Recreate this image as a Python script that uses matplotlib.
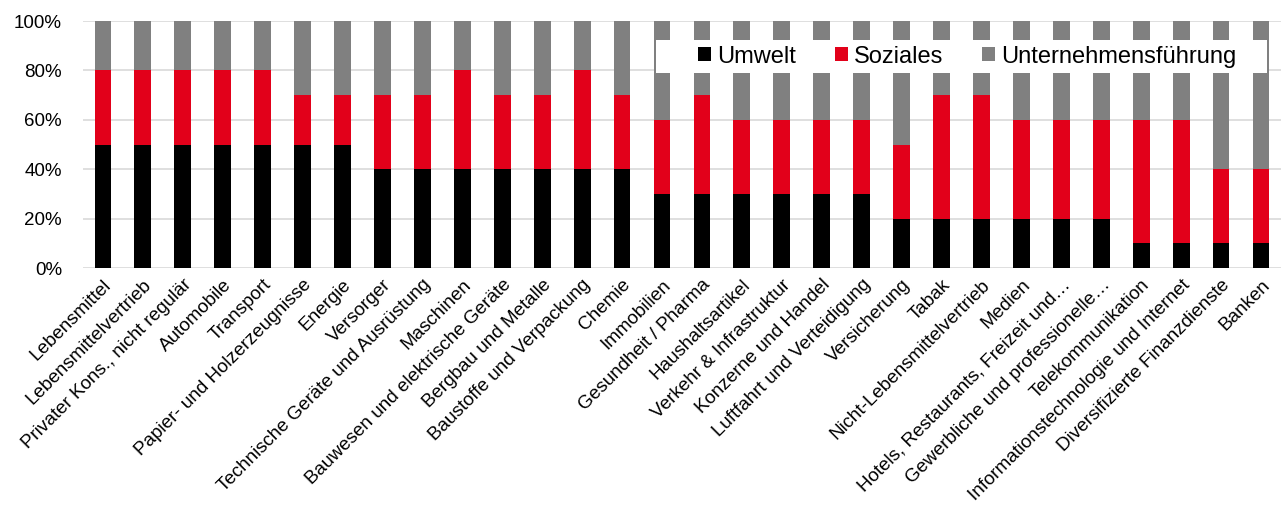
import numpy as np
import matplotlib
matplotlib.use("Agg")
import matplotlib.pyplot as plt
from matplotlib.patches import Rectangle
from matplotlib.ticker import PercentFormatter

plt.rcParams['font.family'] = ['Liberation Sans', 'DejaVu Sans']

sektoren = ["Lebensmittel", "Lebensmittelvertrieb", "Privater Kons., nicht regulär",
            "Automobile", "Transport", "Papier- und Holzerzeugnisse", "Energie",
            "Versorger", "Technische Geräte und Ausrüstung", "Maschinen",
            "Bauwesen und elektrische Geräte", "Bergbau und Metalle",
            "Baustoffe und Verpackung", "Chemie", "Immobilien", "Gesundheit / Pharma",
            "Haushaltsartikel", "Verkehr & Infrastruktur", "Konzerne und Handel",
            "Luftfahrt und Verteidigung", "Versicherung", "Tabak",
            "Nicht-Lebensmittelvertrieb", "Medien", "Hotels, Restaurants, Freizeit und…",
            "Gewerbliche und professionelle…", "Telekommunikation",
            "Informationstechnologie und Internet", "Diversifizierte Finanzdienste", "Banken"]

umwelt = [50, 50, 50, 50, 50, 50, 50, 40, 40, 40, 40, 40, 40, 40, 30,
          30, 30, 30, 30, 30, 20, 20, 20, 20, 20, 20, 10, 10, 10, 10]
soziales = [30, 30, 30, 30, 30, 20, 20, 30, 30, 40, 30, 30, 40, 30, 30,
            40, 30, 30, 30, 30, 30, 50, 50, 40, 40, 40, 50, 50, 30, 30]
fuehrung = [20, 20, 20, 20, 20, 30, 30, 30, 30, 20, 30, 30, 20, 30, 40,
            30, 40, 40, 40, 40, 50, 30, 30, 40, 40, 40, 40, 40, 60, 60]

x = np.arange(len(sektoren))
u = np.array(umwelt)
s = np.array(soziales)
f = np.array(fuehrung)

fig = plt.figure(figsize=(12.82, 5.07), dpi=100)
ax = fig.add_axes([0.0647, 0.4714, 0.9345, 0.487])

w = 0.42
ax.bar(x, u, w, color='black', label='Umwelt', zorder=3)
ax.bar(x, s, w, bottom=u, color='#e2001a', label='Soziales', zorder=3)
ax.bar(x, f, w, bottom=u + s, color='#808080', label='Unternehmensführung', zorder=3)

ax.set_xlim(-0.5, len(sektoren) - 0.5)
ax.set_ylim(0, 100)
ax.set_yticks(np.arange(0, 101, 20))
ax.yaxis.set_major_formatter(PercentFormatter(decimals=0))
ax.grid(axis='y', color='#d9d9d9', linewidth=1.2, zorder=0)
for sp in ax.spines.values():
    sp.set_visible(False)
ax.tick_params(axis='both', length=0, labelsize=13.5)
ax.tick_params(axis='y', pad=15)
ax.tick_params(axis='x', pad=6)
ax.set_xticks(x)
ax.set_xticklabels(sektoren, rotation=45, ha='right', rotation_mode='anchor', fontsize=13.6)

# white legend box (wider padding on the left, like the original)
ax.add_patch(Rectangle((0.478, 0.789), 0.51, 0.134, transform=ax.transAxes,
                       facecolor='white', edgecolor='none', zorder=4))
leg = ax.legend(loc='center right', bbox_to_anchor=(0.9624, 0.856), ncol=3, fontsize=17,
                frameon=False, handlelength=0.55, handleheight=0.55,
                handletextpad=0.25, columnspacing=1.65, borderpad=0, borderaxespad=0)
leg.set_zorder(5)

fig.savefig('out.png', dpi=100)
